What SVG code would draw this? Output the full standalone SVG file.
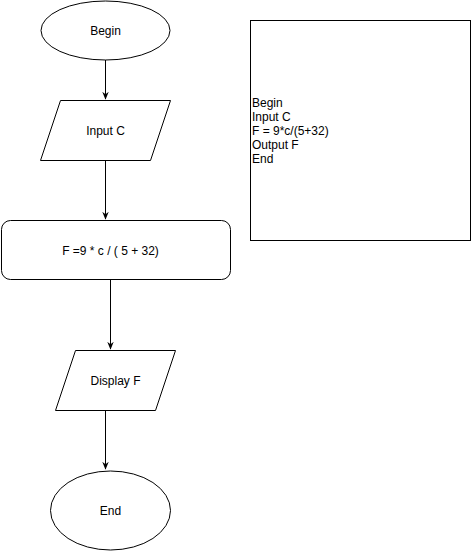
<svg xmlns="http://www.w3.org/2000/svg" width="471" height="551" viewBox="0 0 471 551">
<style>
.s{fill:#fff;stroke:#000;stroke-width:1}
.t{font-family:"Liberation Sans",Arial,sans-serif;font-size:12px;fill:#000}
.c{text-anchor:middle;dominant-baseline:central}
.e{stroke:#000;stroke-width:1;fill:none;marker-end:url(#a)}
</style>
<defs>
<marker id="a" viewBox="0 0 10 10" refX="9" refY="5" markerWidth="8" markerHeight="8" markerUnits="userSpaceOnUse" orient="auto">
<path d="M0,1 L10,5 L0,9 L3,5 Z" fill="#000"/>
</marker>
</defs>
<rect width="471" height="551" fill="#fff"/>
<g id="connectors">
<path class="e" d="M105.5,60 L105.5,99"/>
<path class="e" d="M105.5,160 L105.5,219"/>
<path class="e" d="M110.5,280 L110.5,349"/>
<path class="e" d="M105.5,410 L105.5,469"/>
</g>
<g id="begin">
<ellipse class="s" cx="105.5" cy="30.5" rx="64.5" ry="29.5"/>
<text class="t c" x="105.5" y="30.5">Begin</text>
</g>
<g id="input">
<polygon class="s" points="60.5,100.5 170.5,100.5 150.5,160.5 40.5,160.5"/>
<text class="t c" x="105.5" y="130.5">Input C</text>
</g>
<g id="process">
<rect class="s" x="1.5" y="220.5" width="229" height="59" rx="9" ry="9"/>
<text class="t c" x="110.5" y="250.5">F =9 * c / ( 5 + 32)</text>
</g>
<g id="display">
<polygon class="s" points="75.5,350.5 175.5,350.5 155.5,410.5 55.5,410.5"/>
<text class="t c" x="115.5" y="380.5">Display F</text>
</g>
<g id="end">
<ellipse class="s" cx="110.5" cy="510.5" rx="60" ry="39.5"/>
<text class="t c" x="110.5" y="510.5">End</text>
</g>
<g id="note">
<rect class="s" x="250.5" y="20.5" width="220" height="220"/>
<text class="t" x="252" y="106.5">Begin</text>
<text class="t" x="252" y="120.5">Input C</text>
<text class="t" x="252" y="134.5">F = 9*c/(5+32)</text>
<text class="t" x="252" y="148.5">Output F</text>
<text class="t" x="252" y="162.5">End</text>
</g>
</svg>
